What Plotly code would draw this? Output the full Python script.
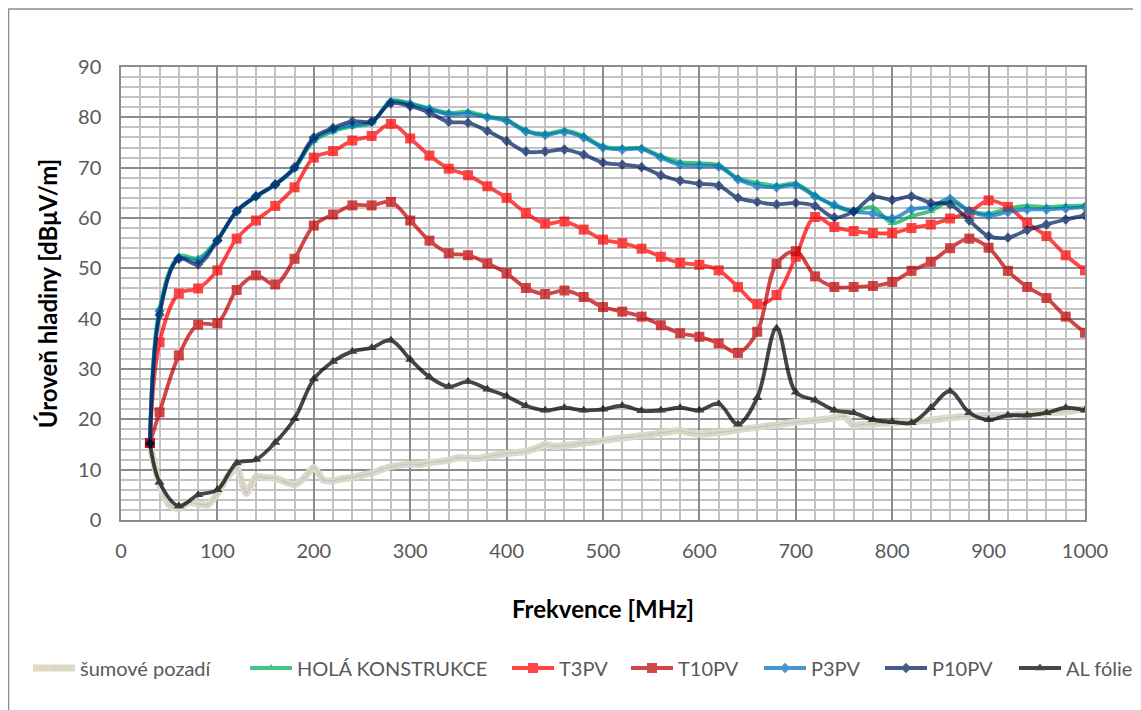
import plotly.graph_objects as go

freq = [30, 40, 60, 80, 100, 120, 140, 160, 180, 200, 220, 240, 260, 280, 300, 320, 340, 360, 380, 400,
        420, 440, 460, 480, 500, 520, 540, 560, 580, 600, 620, 640, 660, 680, 700, 720, 740, 760, 780, 800,
        820, 840, 860, 880, 900, 920, 940, 960, 980, 1000]

hola = [15.3, 42.0, 52.4, 52.0, 55.8, 61.3, 64.2, 66.6, 69.8, 75.3, 77.2, 78.2, 78.9, 83.3, 82.8, 81.8, 80.9, 81.1, 80.2, 79.5,
        77.4, 76.7, 77.4, 76.3, 74.2, 73.9, 73.9, 72.3, 71.1, 70.9, 70.5, 67.9, 67.0, 66.4, 66.8, 64.5, 62.4, 61.4, 62.1, 59.0,
        60.4, 61.4, 63.2, 61.5, 60.9, 61.9, 62.4, 62.2, 62.4, 62.5]

p3pv = [15.3, 41.5, 52.0, 51.5, 55.6, 61.3, 64.3, 66.6, 69.9, 75.6, 77.5, 78.5, 79.0, 83.1, 82.6, 81.6, 80.6, 80.7, 80.0, 79.3,
        77.2, 76.5, 77.1, 76.0, 74.0, 73.6, 73.7, 72.0, 70.6, 70.4, 70.2, 67.7, 66.4, 66.1, 66.5, 64.3, 62.6, 61.3, 60.9, 59.9,
        61.7, 62.2, 63.8, 61.4, 60.5, 61.2, 61.7, 61.7, 61.9, 62.2]

p10pv = [15.3, 40.8, 51.9, 50.8, 55.5, 61.4, 64.3, 66.7, 70.1, 76.0, 77.9, 79.2, 79.2, 82.8, 82.2, 80.9, 79.1, 78.9, 77.3, 75.3,
         73.2, 73.2, 73.6, 72.6, 71.0, 70.6, 70.1, 68.5, 67.4, 66.8, 66.4, 64.0, 63.2, 62.7, 63.0, 62.4, 60.1, 61.3, 64.2, 63.6,
         64.3, 63.0, 62.7, 59.5, 56.4, 56.1, 57.6, 58.7, 59.7, 60.5]

t3pv = [15.3, 35.3, 45.0, 46.0, 49.6, 55.9, 59.5, 62.4, 66.1, 72.0, 73.3, 75.4, 76.3, 78.7, 75.8, 72.4, 69.8, 68.5, 66.3, 64.0,
        61.0, 58.9, 59.3, 57.7, 55.7, 55.0, 53.9, 52.3, 51.1, 50.7, 49.6, 46.3, 42.9, 44.7, 52.3, 60.2, 58.2, 57.4, 57.0, 57.0,
        58.0, 58.7, 59.9, 61.2, 63.5, 62.2, 59.0, 56.4, 52.6, 49.6]

t10pv = [15.3, 21.4, 32.7, 38.8, 39.1, 45.7, 48.6, 46.8, 51.9, 58.5, 60.7, 62.5, 62.5, 63.2, 59.5, 55.5, 53.0, 52.6, 51.0, 49.0,
         46.1, 44.9, 45.6, 44.3, 42.3, 41.4, 40.4, 38.7, 37.1, 36.4, 35.1, 33.2, 37.4, 50.9, 53.4, 48.4, 46.3, 46.3, 46.5, 47.3,
         49.5, 51.3, 54.0, 55.9, 54.1, 49.5, 46.3, 44.1, 40.4, 37.2]

al_folie = [15.3, 7.5, 2.8, 5.0, 6.0, 11.3, 12.0, 15.4, 20.1, 28.0, 31.5, 33.5, 34.2, 35.7, 31.9, 28.4, 26.5, 27.5, 26.0, 24.6,
            22.7, 21.8, 22.3, 21.8, 22.0, 22.7, 21.7, 21.8, 22.3, 21.8, 23.1, 19.0, 24.3, 38.1, 25.4, 23.8, 21.8, 21.3, 19.9, 19.5,
            19.3, 22.3, 25.6, 21.3, 19.9, 20.8, 20.8, 21.3, 22.3, 21.8]

noise_freq = [30, 40, 50, 60, 70, 80, 90, 100, 110, 120, 130, 140, 150, 160, 170, 180, 190, 200, 210, 220,
              230, 240, 250, 260, 270, 280, 290, 300, 310, 320, 330, 340, 350, 360, 370, 380, 390, 400, 410, 420,
              430, 440, 450, 460, 470, 480, 490, 500, 510, 520, 530, 540, 550, 560, 570, 580, 590, 600, 610, 620,
              630, 640, 650, 660, 670, 680, 690, 700, 710, 720, 730, 740, 750, 760, 770, 780, 790, 800, 810, 820,
              830, 840, 850, 860, 870, 880, 890, 900, 910, 920, 930, 940, 950, 960, 970, 980, 990, 1000]
noise = [15.0, 7.0, 3.0, 2.2, 3.5, 3.2, 3.0, 5.2, 8.5, 10.3, 5.3, 8.6, 8.4, 8.3, 7.6, 7.0, 8.3, 10.5, 7.9, 7.8,
         8.2, 8.5, 8.9, 9.3, 10.0, 10.6, 10.9, 11.1, 11.0, 11.4, 11.6, 11.9, 12.4, 12.3, 12.2, 12.6, 12.9, 13.2, 13.4, 13.6,
         14.2, 15.0, 14.6, 14.8, 15.0, 15.3, 15.5, 15.8, 16.1, 16.3, 16.5, 16.8, 17.0, 17.3, 17.6, 17.8, 17.3, 17.1, 17.2, 17.4,
         17.6, 17.9, 18.2, 18.4, 18.7, 18.9, 19.2, 19.4, 19.6, 19.8, 20.0, 20.3, 20.6, 18.8, 19.0, 19.1, 19.2, 19.3, 19.5, 19.5,
         19.7, 19.8, 20.1, 20.3, 20.5, 20.6, 20.7, 20.8, 20.8, 20.8, 20.9, 21.0, 21.2, 21.3, 21.4, 21.5, 21.8, 22.1]

x_ticks = [0, 100, 200, 300, 400, 500, 600, 700, 800, 900, 1000]
y_ticks = [0, 10, 20, 30, 40, 50, 60, 70, 80, 90]

FONT = "Lato"

# page body has an 8px margin: figure drawn at (8, 8)
W, H = 1133, 702
L, T, R, B = 113, 59, 56, 190
pw, ph = W - L - R, H - T - B
OFF = 8

# legend text start positions (screen px) for each entry
legend_text_x = [80, 297, 559, 678, 811, 932, 1066]
legend_y = 668

fig = go.Figure()

fig.add_trace(go.Scatter(x=noise_freq, y=noise, name="šumové pozadí", mode="lines+markers", legend="legend",
                         line=dict(color="#DDD9C3", width=7, shape="spline", smoothing=0.6),
                         marker=dict(symbol="cross-thin", size=4, line=dict(color="#C9CFDB", width=1), color="#C9CFDB")))
fig.add_trace(go.Scatter(x=noise_freq, y=noise, showlegend=False, mode="lines", hoverinfo="skip",
                         line=dict(color="#B7C4D9", width=1, shape="spline", smoothing=0.6)))

series = [
    ("HOLÁ KONSTRUKCE", hola, "#00B050", "triangle-up", 8),
    ("T3PV", t3pv, "#FF0000", "square", 10),
    ("T10PV", t10pv, "#C00000", "square", 10),
    ("P3PV", p3pv, "#0070C0", "diamond", 8),
    ("P10PV", p10pv, "#002060", "diamond", 8),
    ("AL fólie", al_folie, "#000000", "triangle-up", 9),
]
for i, (name, vals, col, sym, sz) in enumerate(series):
    fig.add_trace(go.Scatter(x=freq, y=vals, name=name, mode="lines+markers", opacity=0.72,
                             legend="legend%d" % (i + 2),
                             line=dict(color=col, width=3.8, shape="spline", smoothing=1.0),
                             marker=dict(symbol=sym, size=sz, color=col)))

ITEMW = 42
TEXT_OFF = ITEMW + 10
legends = {}
for i, tx in enumerate(legend_text_x):
    key = "legend" if i == 0 else "legend%d" % (i + 1)
    legends[key] = dict(orientation="h", xref="container", yref="container",
                        x=(tx - OFF - TEXT_OFF) / W, xanchor="left",
                        y=1 - (legend_y - OFF) / H, yanchor="middle",
                        font=dict(size=20, color="#595959", family=FONT), itemwidth=ITEMW,
                        bgcolor="rgba(0,0,0,0)", borderwidth=0)

fig.update_layout(
    width=W, height=H,
    margin=dict(l=L, r=R, t=T, b=B, autoexpand=False),
    paper_bgcolor="white", plot_bgcolor="white",
    font=dict(family=FONT, color="#595959", size=20),
    showlegend=True,
    xaxis=dict(range=[0, 1000], tickvals=x_ticks, ticktext=[str(v) for v in x_ticks],
               showgrid=True, gridcolor="#8C8C8C", gridwidth=1.5,
               minor=dict(dtick=20, showgrid=True, gridcolor="#C3C3C3", gridwidth=1.5),
               showline=True, linecolor="#8C8C8C", linewidth=1.5, mirror=True,
               zeroline=False, ticks="", ticklabelstandoff=12,
               title=dict(text="<b>Frekvence [MHz]</b>", font=dict(size=24, color="#000000"), standoff=40)),
    yaxis=dict(range=[0, 90], tickvals=y_ticks, ticktext=[str(v) for v in y_ticks],
               showgrid=True, gridcolor="#8C8C8C", gridwidth=1.5,
               minor=dict(dtick=2, showgrid=True, gridcolor="#C3C3C3", gridwidth=1.5),
               showline=True, linecolor="#8C8C8C", linewidth=1.5, mirror=True,
               zeroline=False, ticks="", ticklabelstandoff=14,
               title=dict(text="<b>Úroveň hladiny [dBμV/m]</b>", font=dict(size=24, color="#000000"), standoff=14)),
    shapes=[dict(type="rect", xref="paper", yref="paper",
                 x0=(OFF + 0.5 - OFF - L) / pw, x1=(1140 - OFF - L) / pw,
                 y0=(H - B - (H + 10)) / ph, y1=(H - B - (9 - OFF)) / ph,
                 line=dict(color="#8C8C8C", width=1.5), fillcolor="rgba(0,0,0,0)", layer="below")],
    **legends,
)

fig.write_html("out.html")
